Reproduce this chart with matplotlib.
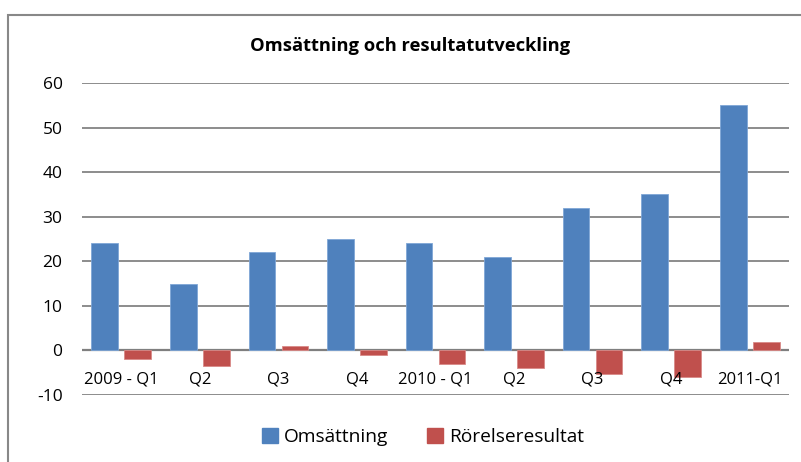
import matplotlib
matplotlib.use("Agg")
import matplotlib.pyplot as plt
import numpy as np
from matplotlib.patches import Rectangle, Patch

# data
categories = ["2009 - Q1", "Q2", "Q3", "Q4", "2010 - Q1", "Q2", "Q3", "Q4", "2011-Q1"]
omsattning = [24, 15, 22, 25, 24, 21, 32, 35, 55]
rorelseresultat = [-2, -3.6, 0.9, -1.1, -3, -4, -5.2, -5.9, 2]

blue = "#4F81BD"
red = "#C0504D"
grid_col = "#8C8C8C"

plt.rcParams['font.family'] = ['Open Sans', 'DejaVu Sans']
plt.rcParams['axes.unicode_minus'] = False

fig = plt.figure(figsize=(8.01, 4.62), dpi=100)
ax = fig.add_axes([82/801, 1-395/462, (789-82)/801, (395-83)/462])

x = np.arange(len(categories))
w = 0.34
ax.bar(x - 0.21, omsattning, w, color=blue, edgecolor="#7FA6D6", linewidth=0.6, zorder=3)
ax.bar(x + 0.21, rorelseresultat, w, color=red, edgecolor="#D98A88", linewidth=0.6, zorder=3)

ax.set_xlim(-0.5, len(categories) - 0.5)
ax.set_ylim(-10, 60)
ax.set_yticks(range(-10, 61, 10))
ax.yaxis.grid(True, color=grid_col, linewidth=1.4, zorder=0)
ax.axhline(0, color="#7F7F7F", linewidth=1.6, zorder=2)
ax.set_xticks([])
ax.tick_params(axis='y', length=0, pad=14, labelsize=12.5, colors="black")
for s in ax.spines.values():
    s.set_visible(False)

for xi, lab in zip(x, categories):
    ax.text(xi, -6.6, lab, ha='center', va='center', fontsize=12)

fig.text(0.512, 1-46/462, "Omsättning och resultatutveckling", ha='center', va='center',
         fontsize=13.2, fontweight='bold')

# outer chart frame (only left/top edges visible in the crop)
fig.patches.append(Rectangle((8/801, -0.1), 1.2, 1-15/462+0.1, transform=fig.transFigure,
                             fill=False, edgecolor="#888888", linewidth=1.5))

handles = [Patch(color=blue, label="Omsättning"), Patch(color=red, label="Rörelseresultat")]
fig.legend(handles=handles, loc='center', bbox_to_anchor=(0.528, 1-437/462), ncol=2,
           frameon=False, fontsize=13.8, handlelength=0.85, handleheight=0.85,
           handletextpad=0.3, columnspacing=2.0)

fig.savefig("out.png", dpi=100)
